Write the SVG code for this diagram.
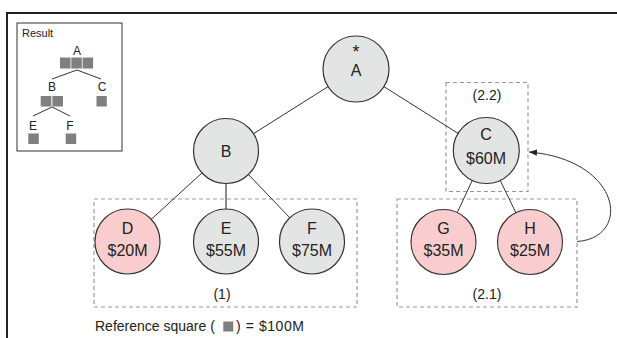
<svg xmlns="http://www.w3.org/2000/svg" width="617" height="338" viewBox="0 0 617 338">
<style>
text{font-family:"Liberation Sans",Arial,sans-serif;fill:#222;}
.lbl{font-size:16px;text-anchor:middle;}
.cap{font-size:14px;text-anchor:middle;}
.gray{fill:#e3e4e4;stroke:#333;stroke-width:1.2;}
.pink{fill:#f9cdcd;stroke:#333;stroke-width:1.2;}
.dash{fill:none;stroke:#999;stroke-width:1.2;stroke-dasharray:4,3;}
.edge{stroke:#333;stroke-width:1;fill:none;}
.sq{fill:#7f7f7f;}
.small{font-size:12px;text-anchor:middle;}
</style>
<defs>
<marker id="arr" viewBox="0 0 10 10" refX="10" refY="5" markerWidth="8" markerHeight="8" orient="auto" markerUnits="userSpaceOnUse">
<path d="M0,1 L10,5 L0,9 z" fill="#222"/>
</marker>
</defs>
<rect width="617" height="338" fill="#fff"/>
<g id="frame">
<line x1="6" y1="13" x2="617" y2="13" stroke="#222" stroke-width="2"/>
<line x1="7" y1="12" x2="7" y2="338" stroke="#222" stroke-width="2"/>
</g>
<g id="result">
<rect x="17" y="23" width="105" height="128" fill="#fff" stroke="#333" stroke-width="1"/>
<text x="22" y="37" font-size="11px">Result</text>
<text class="small" x="77" y="55">A</text>
<rect class="sq" x="60" y="57.5" width="10.5" height="11"/>
<rect class="sq" x="71.3" y="57.5" width="10.5" height="11"/>
<rect class="sq" x="82.6" y="57.5" width="10.5" height="11"/>
<line class="edge" x1="77" y1="70" x2="52" y2="79"/>
<line class="edge" x1="77" y1="70" x2="101" y2="79"/>
<text class="small" x="52" y="91">B</text>
<text class="small" x="102" y="91">C</text>
<rect class="sq" x="40.7" y="96" width="10.6" height="10.5"/>
<rect class="sq" x="52.4" y="96" width="10.6" height="10.5"/>
<rect class="sq" x="96.5" y="96" width="10.3" height="10.5"/>
<line class="edge" x1="52" y1="107" x2="33" y2="116"/>
<line class="edge" x1="52" y1="107" x2="70" y2="116"/>
<text class="small" x="33" y="130">E</text>
<text class="small" x="70" y="130">F</text>
<rect class="sq" x="28.3" y="133.5" width="10.5" height="10.5"/>
<rect class="sq" x="65.7" y="133.5" width="10.5" height="10.5"/>
</g>
<g id="groups">
<rect class="dash" x="94" y="199" width="263" height="108"/>
<text class="cap" x="222" y="299">(1)</text>
<rect class="dash" x="397" y="199" width="180" height="108"/>
<text class="cap" x="487" y="299">(2.1)</text>
<rect class="dash" x="446" y="82.5" width="82" height="109"/>
<text class="cap" x="487" y="100">(2.2)</text>
</g>
<g id="connectors">
<line class="edge" x1="356" y1="69" x2="226" y2="151"/>
<line class="edge" x1="356" y1="69" x2="486" y2="151"/>
<line class="edge" x1="226" y1="151" x2="127.5" y2="241"/>
<line x1="226" y1="151" x2="226" y2="241" stroke="#666" stroke-width="1.5"/>
<line class="edge" x1="226" y1="151" x2="312" y2="241"/>
<line class="edge" x1="486" y1="151" x2="443.5" y2="242"/>
<line class="edge" x1="486" y1="151" x2="530" y2="242"/>
<path class="edge" d="M577,241.5 C632,238 622,160 529,152" stroke="#222" marker-end="url(#arr)"/>
</g>
<g id="node-A">
<circle class="gray" cx="356" cy="69" r="33"/>
<text x="356" y="57.5" font-size="18px" text-anchor="middle">*</text>
<text class="lbl" x="356" y="76">A</text>
</g>
<g id="node-B">
<circle class="gray" cx="226" cy="151" r="32.5"/>
<text class="lbl" x="226" y="157">B</text>
</g>
<g id="node-C">
<circle class="gray" cx="486.3" cy="150.5" r="33"/>
<text class="lbl" x="486" y="140">C</text>
<text class="lbl" x="486" y="164">$60M</text>
</g>
<g id="node-D">
<circle class="pink" cx="127.5" cy="241.5" r="32.5"/>
<text class="lbl" x="127.5" y="234">D</text>
<text class="lbl" x="127.5" y="256">$20M</text>
</g>
<g id="node-E">
<circle class="gray" cx="226" cy="241.5" r="32.5"/>
<text class="lbl" x="226" y="234">E</text>
<text class="lbl" x="226" y="256">$55M</text>
</g>
<g id="node-F">
<circle class="gray" cx="312" cy="241.5" r="32.5"/>
<text class="lbl" x="312" y="234">F</text>
<text class="lbl" x="312" y="256">$75M</text>
</g>
<g id="node-G">
<circle class="pink" cx="443.5" cy="242" r="32.5"/>
<text class="lbl" x="443.5" y="234">G</text>
<text class="lbl" x="443.5" y="256">$35M</text>
</g>
<g id="node-H">
<circle class="pink" cx="530" cy="242" r="32.5"/>
<text class="lbl" x="530" y="234">H</text>
<text class="lbl" x="530" y="256">$25M</text>
</g>
<g id="legend">
<text x="95" y="331" font-size="14px">Reference square (</text>
<rect class="sq" x="223.3" y="321.5" width="10" height="10"/>
<text x="236" y="331" font-size="14px" textLength="68" lengthAdjust="spacing">) = $100M</text>
</g>
</svg>
